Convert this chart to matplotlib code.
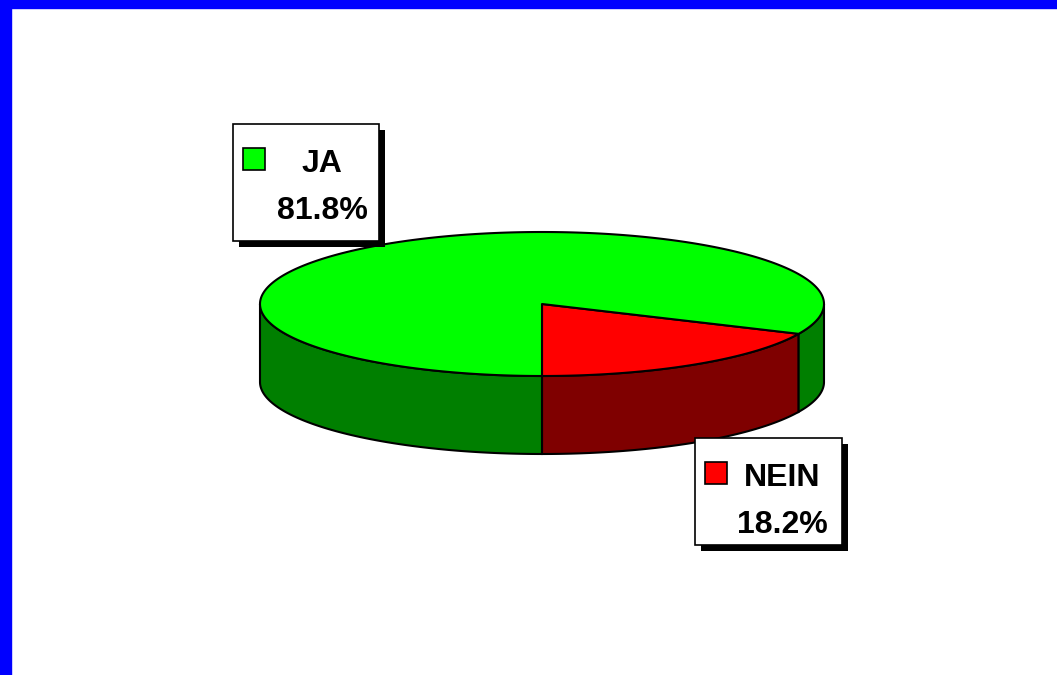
import numpy as np
import matplotlib
matplotlib.use('Agg')
import matplotlib.pyplot as plt
from matplotlib.patches import Polygon, Rectangle

labels = ['NEIN', 'JA']
values = [18.2, 81.8]
top_colors = ['#ff0000', '#00ff00']
side_colors = ['#7f0000', '#007f00']

# pie geometry in pixel coords
cx, cy = 542, 304
ra, rb = 282, 72
depth = 78


def ell(t):
    t = np.radians(t)
    return cx + ra * np.cos(t), cy - rb * np.sin(t)


fig = plt.figure(figsize=(10.57, 6.75), dpi=100)
ax = fig.add_axes([0, 0, 1, 1])
ax.set_xlim(0, 1057)
ax.set_ylim(675, 0)
ax.axis('off')

# blue frame
ax.add_patch(Rectangle((0, 0), 11, 675, color='#0000ff', zorder=1))
ax.add_patch(Rectangle((0, 0), 1057, 8, color='#0000ff', zorder=1))

# slice angles (start at 6 o'clock, counter clockwise)
total = sum(values)
angles = []
start = -90.0
for v in values:
    end = start + 360.0 * v / total
    angles.append((start, end))
    start = end

# side walls (front half only)
for (t1, t2), col in zip(angles, side_colors):
    for lo, hi in [(-180, 0), (180, 360)]:
        a1, a2 = max(t1, lo), min(t2, hi)
        if a2 <= a1:
            continue
        ts = np.linspace(a1, a2, 120)
        x, y = ell(ts)
        pts = np.column_stack([np.r_[x, x[::-1]], np.r_[y, y[::-1] + depth]])
        ax.add_patch(Polygon(pts, closed=True, facecolor=col, edgecolor='black',
                             linewidth=1.5, zorder=2))

# tops
for (t1, t2), col in zip(angles, top_colors):
    ts = np.linspace(t1, t2, 300)
    x, y = ell(ts)
    pts = np.column_stack([np.r_[cx, x], np.r_[cy, y]])
    ax.add_patch(Polygon(pts, closed=True, facecolor=col, edgecolor='black',
                         linewidth=1.5, joinstyle='round', zorder=3))

# label boxes
boxes = {'JA': (233, 124, 146, 117), 'NEIN': (695, 438, 147, 107)}
font = dict(family='Liberation Sans', weight='bold', fontsize=23, color='black')
for lab, v, col in zip(labels, values, top_colors):
    bx, by, bw, bh = boxes[lab]
    ax.add_patch(Rectangle((bx + 6, by + 6), bw, bh, facecolor='black', zorder=4))
    ax.add_patch(Rectangle((bx, by), bw, bh, facecolor='white', edgecolor='black',
                           linewidth=1.2, zorder=5))
    ax.add_patch(Rectangle((bx + 10, by + 24), 22, 22, facecolor=col,
                           edgecolor='black', linewidth=1.2, zorder=6))
    tx = bx + bw / 2 + (16 if lab == 'JA' else 87 - 73)
    ax.text(tx, by + 48, lab, ha='center', va='baseline', zorder=7, **font)
    ax.text(tx, by + 95, f'{v:.1f}%', ha='center', va='baseline', zorder=7, **font)

fig.savefig('out.png', dpi=100)
